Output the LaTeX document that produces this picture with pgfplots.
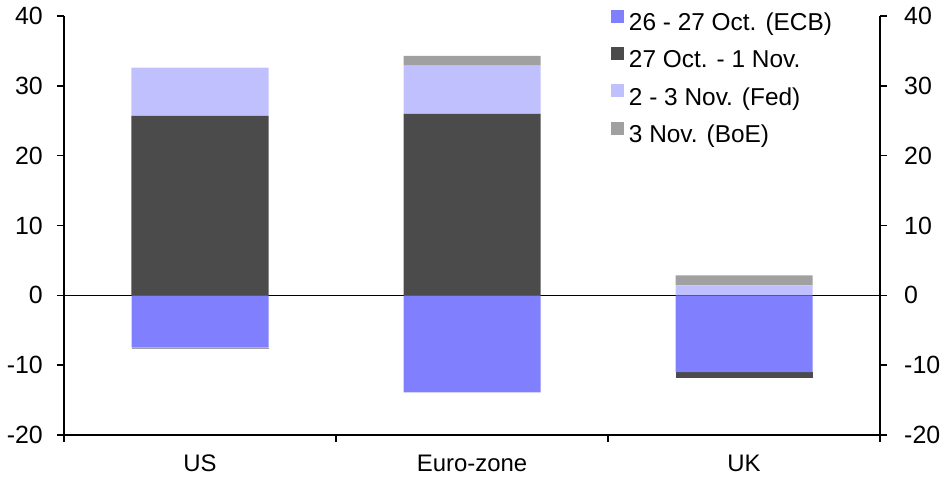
\documentclass[border=0pt]{standalone}
\usepackage{fontspec}
\setmainfont{Liberation Sans}
\usepackage{pgfplots}
\pgfplotsset{compat=1.18}
\definecolor{ecb}{HTML}{8080FF}
\definecolor{mid}{HTML}{4B4B4B}
\definecolor{fed}{HTML}{C0C0FF}
\definecolor{boe}{HTML}{A0A0A0}
\pgfplotsset{common/.style={
  width=816bp, height=419bp, scale only axis,
  xmin=-0.5, xmax=2.5, ymin=-20, ymax=40,
  ybar stacked, bar width=137bp,
  at={(0,0)}, anchor=south west,
  axis line style={line width=1.6bp, -},
  tick style={line width=1.6bp, black},
  major tick length=7bp, minor tick length=7bp,
  tick align=outside,
  ytick={-20,-10,...,40},
  /pgf/number format/assume math mode=true,
  tick label style={font=\fontsize{24}{28}\selectfont},
  yticklabel style={font=\fontsize{25}{29}\selectfont},
}}
\begin{document}
\begin{tikzpicture}
\path[use as bounding box] (-64bp,-47bp) rectangle (882bp,435bp);
% positive contributions
\begin{axis}[common,
  axis x line*=bottom, axis y line*=left,
  xtick={0,1,2}, xticklabels={US,Euro-zone,UK},
  major x tick style={draw=none},
  minor xtick={-0.5,0.5,1.5,2.5},
  xticklabel style={anchor=base, inner sep=0pt, yshift=-29bp},
  yticklabel style={anchor=east, inner sep=0pt, xshift=-14bp},
  legend style={at={(0.6703,1.0155)}, anchor=north west, draw=none, fill=none,
    inner sep=0pt, outer sep=0pt, column sep=5bp, row sep=11.4bp,
    font=\fontsize{24.5}{28}\selectfont,
    nodes={inner sep=0pt, text height=17bp, text depth=5bp}},
  legend cell align=left,
  legend image code/.code={\fill[#1] (0bp,2bp) rectangle (13bp,15bp);},
]
\addplot[fill=ecb, draw=none] coordinates {(0,0) (1,0) (2,0)};
\addlegendentry{26 - 27 Oct. (ECB)}
\addplot[fill=mid, draw=none] coordinates {(0,25.7) (1,26.0) (2,0)};
\addlegendentry{27 Oct. - 1 Nov.}
\addplot[fill=fed, draw=none] coordinates {(0,6.9) (1,6.9) (2,1.43)};
\addlegendentry{2 - 3 Nov. (Fed)}
\addplot[fill=boe, draw=none] coordinates {(0,0) (1,1.4) (2,1.43)};
\addlegendentry{3 Nov. (BoE)}
\end{axis}
% negative contributions, right axis
\begin{axis}[common,
  axis x line=none, axis y line*=right,
  yticklabel style={anchor=west, inner sep=0pt, xshift=17bp},
]
\addplot[fill=ecb, draw=none] coordinates {(0,-7.5) (1,-13.9) (2,-11.0)};
\addplot[fill=mid, draw=none] coordinates {(0,0) (1,0) (2,-0.8)};
\addplot[fill=fed, draw=none] coordinates {(0,0) (1,0) (2,0)};
\addplot[fill=boe, draw=none] coordinates {(0,-0.25) (1,0) (2,0)};
\draw[black, line width=1.6bp] (axis cs:-0.5,0) -- (axis cs:2.5,0);
\end{axis}
\end{tikzpicture}
\end{document}
